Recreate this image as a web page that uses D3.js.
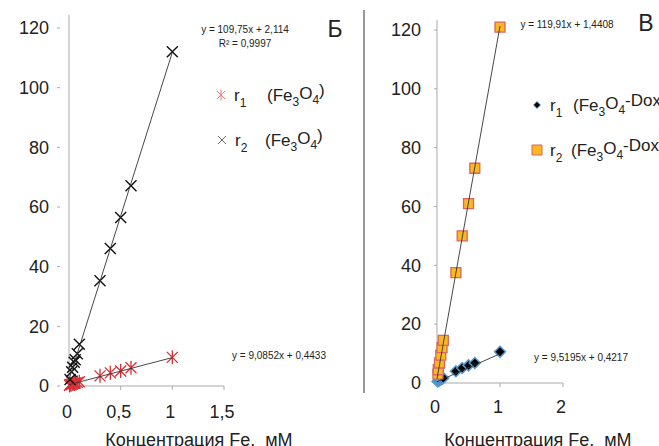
<!DOCTYPE html>
<meta charset="utf-8">
<style>
body { margin: 0; background: #fff; }
svg { display: block; font-family: "Liberation Sans", Arial, sans-serif; }
.tick-label { font-size: 18px; fill: #222; }
.eq { font-size: 10px; fill: #222; }
.legend { font-size: 17px; fill: #222; }
</style>
<body>
<svg width="659" height="446"></svg>
<script src="https://d3js.org/d3.v7.min.js"></script>
<script>

// left panel (Б): Fe3O4
var leftX1 = [0.005, 0.01, 0.02, 0.03, 0.04, 0.05, 0.06, 0.08, 0.1, 0.3, 0.4, 0.5, 0.6, 1.0];
var leftR1 = [0.2, 0.5, 0.4, 0.7, 0.8, 0.9, 1.0, 1.2, 1.4, 3.4, 4.4, 5.0, 6.1, 9.6];
var leftX2 = [0.01, 0.025, 0.035, 0.05, 0.06, 0.08, 0.1, 0.3, 0.4, 0.5, 0.6, 1.0];
var leftR2 = [2.2, 4.8, 6.3, 8.0, 8.8, 10.8, 14.0, 35.3, 46.1, 56.5, 67.1, 112];
var leftFit1 = [9.0852, 0.4433];
var leftFit2 = [109.75, 2.114];
var leftXTicks = [0, 0.5, 1, 1.5];

// right panel (В): Fe3O4-Dox
var rightX1 = [0.01, 0.02, 0.04, 0.06, 0.08, 0.1, 0.3, 0.4, 0.5, 0.6, 1.0];
var rightR1 = [0.5, 0.7, 0.9, 1.2, 1.4, 1.7, 4.0, 5.1, 6.0, 6.8, 10.6];
var rightX2 = [0.015, 0.02, 0.04, 0.06, 0.08, 0.1, 0.3, 0.4, 0.5, 0.6, 1.0];
var rightR2 = [3.0, 4.5, 6.8, 9.5, 12.0, 14.5, 37.5, 50.0, 61.0, 73.0, 121];
var rightFit1 = [9.5195, 0.4217];
var rightFit2 = [119.91, 1.4408];
var rightXTicks = [0, 1, 2];

var yTicks = [0, 20, 40, 60, 80, 100, 120];

var svg = d3.select("svg");

function fmt(v) { return String(v).replace(".", ","); }

var crossPath = "M-5.5,-5.5L5.5,5.5M-5.5,5.5L5.5,-5.5";
var starPath = "M-5.5,-5.5L5.5,5.5M-5.5,5.5L5.5,-5.5M0,-7L0,7";
var diamondPath = "M0,-5.5L5.5,0L0,5.5L-5.5,0Z";
var squarePath = "M-5,-5H5V5H-5Z";

function drawPanel(p) {
  var x = d3.scaleLinear().domain(p.xDomain).range(p.xRange);
  var y = d3.scaleLinear().domain([0, 120]).range(p.yRange);
  var g = svg.append("g");

  // axes
  g.append("line")
    .attr("x1", x(0)).attr("x2", x(0))
    .attr("y1", p.axisTop).attr("y2", y(0))
    .attr("stroke", "#aaa").attr("stroke-width", 1);
  g.append("line")
    .attr("x1", x(0)).attr("x2", x(p.xDomain[1]))
    .attr("y1", y(0)).attr("y2", y(0))
    .attr("stroke", "#aaa").attr("stroke-width", 1);

  g.selectAll(".ytick").data(yTicks).enter().append("line")
    .attr("x1", x(0) + p.tickOff - 3).attr("x2", x(0) + p.tickOff)
    .attr("y1", d => y(d)).attr("y2", d => y(d))
    .attr("stroke", "#aaa");
  g.selectAll(".ylab").data(yTicks).enter().append("text")
    .attr("class", "tick-label")
    .attr("x", p.labelRight).attr("y", d => y(d))
    .attr("dy", "0.35em").attr("text-anchor", "end")
    .text(d => d);

  g.selectAll(".xtick").data(p.xTicks).enter().append("line")
    .attr("x1", d => x(d)).attr("x2", d => x(d))
    .attr("y1", y(0)).attr("y2", y(0) + 4)
    .attr("stroke", "#aaa");
  g.selectAll(".xlab").data(p.xTicks).enter().append("text")
    .attr("class", "tick-label")
    .attr("x", d => x(d) - 2).attr("y", p.xLabelY)
    .attr("dy", "0.35em").attr("text-anchor", "middle")
    .text(fmt);

  g.append("text")
    .attr("class", "tick-label")
    .attr("x", p.titleX).attr("y", 440).attr("dy", "0.35em")
    .attr("text-anchor", "middle")
    .style("white-space", "pre")
    .text("Концентрация Fe,  мМ");

  // markers
  p.series.forEach(function(s) {
    var pts = s.xs.map((v, i) => [v, s.ys[i]]);
    g.append("g").selectAll("path").data(pts).enter().append("path")
      .attr("transform", d => "translate(" + x(d[0]) + "," + y(d[1]) + ")")
      .attr("d", s.shape)
      .attr("fill", s.fill).attr("stroke", s.stroke)
      .attr("stroke-width", s.sw);
  });

  // trendlines on top
  p.series.forEach(function(s) {
    var x0 = 0, x1 = d3.max(s.xs);
    g.append("line")
      .attr("x1", x(x0)).attr("y1", y(s.fit[0] * x0 + s.fit[1]))
      .attr("x2", x(x1)).attr("y2", y(s.fit[0] * x1 + s.fit[1]))
      .attr("stroke", "#333").attr("stroke-width", 0.9);
  });
}

drawPanel({
  xDomain: [0, 1.5], xRange: [69, 224], yRange: [386, 28], axisTop: 15,
  tickOff: -9, labelRight: 49, xTicks: leftXTicks, xLabelY: 412, titleX: 199,
  series: [
    { xs: leftX1, ys: leftR1, fit: leftFit1, shape: starPath, fill: "none", stroke: "#d92f35", sw: 1.3 },
    { xs: leftX2, ys: leftR2, fit: leftFit2, shape: crossPath, fill: "none", stroke: "#111", sw: 1.4 }
  ]
});

drawPanel({
  xDomain: [0, 2], xRange: [437, 563], yRange: [383, 30], axisTop: 20,
  tickOff: 0, labelRight: 421, xTicks: rightXTicks, xLabelY: 407, titleX: 538,
  series: [
    { xs: rightX1, ys: rightR1, fit: rightFit1, shape: diamondPath, fill: "#000", stroke: "#5b9bd5", sw: 1.5 },
    { xs: rightX2, ys: rightR2, fit: rightFit2, shape: squarePath, fill: "#fbb821", stroke: "#d7675f", sw: 1.3 }
  ]
});

// divider
svg.append("line").attr("x1", 364).attr("x2", 364).attr("y1", 10).attr("y2", 393)
  .attr("stroke", "#555").attr("stroke-width", 1.2);

// panel letters
svg.append("text").attr("x", 335).attr("y", 29).attr("dy", "0.35em")
  .attr("text-anchor", "middle").style("font-size", "23px").attr("fill", "#222").text("Б");
svg.append("text").attr("x", 646).attr("y", 23).attr("dy", "0.35em")
  .attr("text-anchor", "middle").style("font-size", "23px").attr("fill", "#222").text("В");

// equations
var eqs = [
  { x: 245, y: 29, t: "y = 109,75x + 2,114" },
  { x: 245, y: 43, t: "R² = 0,9997" },
  { x: 279, y: 355, t: "y = 9,0852x + 0,4433" },
  { x: 567, y: 24, t: "y = 119,91x + 1,4408" },
  { x: 581, y: 357, t: "y = 9,5195x + 0,4217" }
];
svg.selectAll(".eq").data(eqs).enter().append("text")
  .attr("class", "eq").attr("x", d => d.x).attr("y", d => d.y)
  .attr("dy", "0.35em").attr("text-anchor", "middle").text(d => d.t);

// legends
function legendItem(mx, my, shape, fill, stroke, sw, num, label, tx) {
  svg.append("path").attr("transform", "translate(" + mx + "," + my + ")")
    .attr("d", shape).attr("fill", fill).attr("stroke", stroke).attr("stroke-width", sw);
  var t = svg.append("text").attr("class", "legend").attr("x", mx + 13).attr("y", my).attr("dy", "0.35em");
  t.append("tspan").text("r");
  t.append("tspan").attr("dy", "0.5em").style("font-size", "12px").text(num);
  var t2 = svg.append("text").attr("class", "legend").attr("x", tx).attr("y", my).attr("dy", "0.35em");
  t2.append("tspan").text("(Fe");
  t2.append("tspan").attr("dy", "0.45em").style("font-size", "12px").text("3");
  t2.append("tspan").attr("dy", "-0.45em").text("O");
  t2.append("tspan").attr("dy", "0.45em").style("font-size", "12px").text("4");
  t2.append("tspan").attr("dy", "-0.45em").text(label);
}
legendItem(221, 95, "M-4,-4L4,4M-4,4L4,-4M0,-5.5L0,5.5", "none", "#e8787c", 1, "1", ")", 267);
legendItem(222, 140, "M-4,-4L4,4M-4,4L4,-4", "none", "#666", 1, "2", ")", 265);
legendItem(537, 105, "M0,-3.5L3.5,0L0,3.5L-3.5,0Z", "#000", "#5b9bd5", 0.8, "1", "-Dox", 573);
legendItem(537, 150, squarePath, "#fbb821", "#d7675f", 1, "2", "-Dox", 571);

</script>
</body>
